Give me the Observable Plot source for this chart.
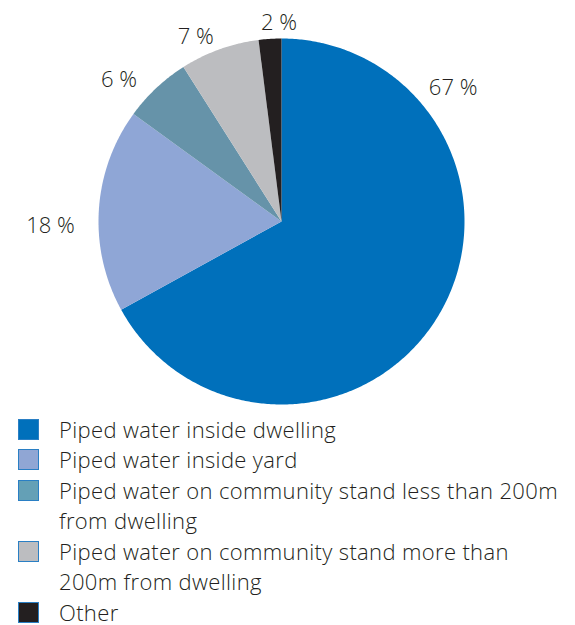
<!DOCTYPE html>
<html>
<head>
<meta charset="utf-8">
<script src="https://cdn.jsdelivr.net/npm/d3@7"></script>
<script src="https://cdn.jsdelivr.net/npm/@observablehq/plot@0.6"></script>
<style>
  body { margin: 0; background: #fff; font-family: "Open Sans", Lato, sans-serif; }
  #chart svg { display: block; }
  .legend { padding-top: 3.5px; }
  .item { display: flex; align-items: flex-start; margin-bottom: 0; }
  .swatch { width: 21px; height: 21px; margin-left: 18px; margin-top: 5.2px; box-sizing: border-box;
            border: 1.5px solid #2a7fc4; flex: none; }
  .lab { margin-left: 20px; font-size: 22px; line-height: 30.5px; color: #231f20; font-weight: 300;
         white-space: pre-line; letter-spacing: 0.35px; }
</style>
</head>
<body>
<div id="chart"></div>
<div class="legend" id="legend"></div>
<script>
// ---- data ----
const categories = [
  "Piped water inside dwelling",
  "Piped water inside yard",
  "Piped water on community stand less than 200m\nfrom dwelling",
  "Piped water on community stand more than\n200m from dwelling",
  "Other"
];
const shares = [67, 18, 6, 7, 2];
const percentLabels = ["67 %", "18 %", "6 %", "7 %", "2 %"];
const colors = ["#0070bb", "#8fa6d6", "#6693a9", "#bcbdc0", "#231f20"];
const legendColors = ["#0070bb", "#90a6d4", "#64a0b6", "#bcbdc0", "#231f20"];

// ---- geometry from data ----
const R = 183, CX = 281, CY = 221;
const rows = categories.map((c, i) => ({category: c, share: shares[i], label: percentLabels[i]}));
const arcs = d3.pie().sort(null).value(d => d.share)(rows);

const features = arcs.map(a => {
  const n = Math.max(2, Math.ceil((a.endAngle - a.startAngle) / 0.01));
  const ring = [[0, 0]];
  for (let k = 0; k <= n; k++) {
    const t = a.startAngle + (a.endAngle - a.startAngle) * k / n;
    ring.push([Math.sin(t), -Math.cos(t)]);
  }
  ring.push([0, 0]);
  return {type: "Feature", properties: {category: a.data.category}, geometry: {type: "Polygon", coordinates: [ring]}};
});

// label angle nudges (degrees) so labels sit as in the original layout
const labelNudge = [0, -5, -1.5, -2, 3];
const labels = arcs.map((a, i) => {
  let t = (a.startAngle + a.endAngle) / 2;
  if (a.endAngle - a.startAngle > Math.PI) t = 48 * Math.PI / 180; // big slice label sits upper right
  else t += labelNudge[i] * Math.PI / 180;
  const dx = Math.sin(t), dy = -Math.cos(t);
  const r = 1 + 10 / R;
  return {
    x: dx * r + dx * 38 / R,
    y: dy * r + dy * 6 / R,
    text: a.data.label
  };
});

const chart = Plot.plot({
  width: 575,
  height: 410,
  margin: 0,
  projection: d3.geoIdentity().scale(R).translate([CX, CY]),
  color: {type: "ordinal", domain: categories, range: colors},
  marks: [
    Plot.geo(features, {fill: d => d.properties.category}),
    Plot.text(labels, {x: "x", y: "y", text: "text", fontSize: 22, fill: "#231f20",
      fontFamily: "'Open Sans', Lato, sans-serif", fontWeight: 300})
  ]
});
document.getElementById("chart").appendChild(chart);

const legend = document.getElementById("legend");
categories.forEach((c, i) => {
  const item = document.createElement("div");
  item.className = "item";
  const sw = document.createElement("div");
  sw.className = "swatch";
  sw.style.background = legendColors[i];
  const lab = document.createElement("div");
  lab.className = "lab";
  lab.textContent = c;
  item.appendChild(sw);
  item.appendChild(lab);
  legend.appendChild(item);
});
</script>
</body>
</html>
